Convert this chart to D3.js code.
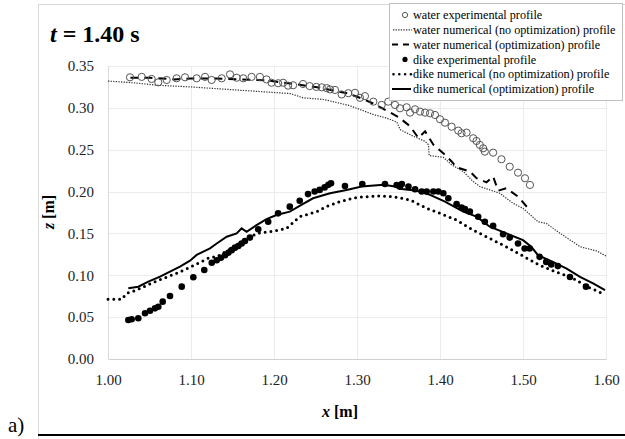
<!DOCTYPE html>
<html>
<head>
<meta charset="utf-8">
<script src="https://cdn.jsdelivr.net/npm/d3@7"></script>
<style>
  body { margin: 0; background: #fff; }
  svg { display: block; font-family: "Liberation Serif", "Times New Roman", serif; }
</style>
</head>
<body>
<svg id="chart" width="625" height="439"></svg>
<script>
// x [m], z [m]
var waterExp = [
  [1.0265,0.3365],[1.0406,0.337],[1.0526,0.3345],[1.0606,0.3305],[1.0707,0.3333],[1.0827,0.3353],
  [1.0928,0.3365],[1.1068,0.3353],[1.1169,0.337],[1.1249,0.3333],[1.137,0.3353],[1.147,0.340],
  [1.155,0.336],[1.163,0.3353],[1.173,0.337],[1.183,0.337],[1.191,0.334],[1.197,0.330],
  [1.205,0.3294],[1.211,0.330],[1.217,0.3265],[1.223,0.327],[1.235,0.3285],[1.243,0.326],
  [1.251,0.325],[1.2575,0.3245],[1.2635,0.3235],[1.2675,0.322],[1.2735,0.3214],[1.2815,0.316],
  [1.2895,0.3175],[1.2976,0.318],[1.3036,0.312],[1.3096,0.314],[1.3197,0.3074],[1.3297,0.3035],
  [1.3377,0.3074],[1.3458,0.3035],[1.3518,0.2995],[1.3598,0.3007],[1.3639,0.2943],[1.3699,0.2983],
  [1.3759,0.2955],[1.382,0.2943],[1.388,0.2935],[1.394,0.2915],[1.400,0.2864],[1.406,0.2823],
  [1.414,0.2775],[1.422,0.2728],[1.426,0.2696],[1.432,0.2704],[1.440,0.2637],[1.444,0.2604],
  [1.448,0.2557],[1.452,0.2517],[1.454,0.2477],[1.464,0.2465],[1.474,0.2386],[1.484,0.2297],
  [1.494,0.2226],[1.5024,0.2159],[1.5084,0.2079]
];
var waterNoOpt = [
  [1.00,0.332],[1.03,0.330],[1.06,0.327],[1.10,0.325],[1.16,0.321],[1.22,0.317],[1.235,0.312],
  [1.26,0.310],[1.29,0.303],[1.32,0.292],[1.335,0.288],[1.348,0.283],[1.352,0.274],[1.368,0.266],
  [1.382,0.260],[1.386,0.256],[1.387,0.243],[1.404,0.241],[1.414,0.232],[1.428,0.224],[1.440,0.212],
  [1.448,0.206],[1.46,0.202],[1.472,0.198],[1.488,0.186],[1.50,0.180],[1.518,0.164],[1.528,0.162],
  [1.545,0.150],[1.569,0.134],[1.589,0.129],[1.60,0.123]
];
var waterOpt = [
  [1.027,0.336],[1.05,0.336],[1.08,0.334],[1.10,0.335],[1.13,0.335],[1.16,0.334],[1.19,0.333],
  [1.22,0.329],[1.25,0.325],[1.27,0.321],[1.29,0.317],[1.306,0.311],[1.32,0.305],[1.337,0.296],
  [1.35,0.289],[1.364,0.278],[1.374,0.264],[1.382,0.272],[1.392,0.256],[1.406,0.244],[1.414,0.236],
  [1.420,0.229],[1.436,0.224],[1.444,0.216],[1.456,0.211],[1.464,0.218],[1.470,0.201],[1.480,0.204],
  [1.494,0.194],[1.508,0.178]
];
var dikeExp = [
  [1.0245,0.0466],[1.0285,0.0474],[1.0365,0.0486],[1.0446,0.0546],[1.0506,0.0577],[1.0566,0.0605],
  [1.0606,0.0625],[1.0659,0.0685],[1.0747,0.0753],[1.0888,0.0864],[1.1028,0.0976],[1.116,0.1063],
  [1.125,0.115],[1.131,0.118],[1.136,0.121],[1.141,0.124],[1.145,0.127],[1.149,0.130],[1.153,0.133],
  [1.157,0.135],[1.161,0.138],[1.165,0.141],[1.171,0.145],[1.181,0.155],[1.193,0.164],[1.205,0.174],
  [1.219,0.182],[1.231,0.189],[1.241,0.197],[1.249,0.200],[1.255,0.202],[1.261,0.205],[1.2655,0.208],
  [1.2687,0.210],[1.2855,0.2067],[1.3064,0.209],[1.3337,0.209],[1.3478,0.2079],[1.3518,0.2059],
  [1.354,0.209],[1.362,0.206],[1.370,0.2027],[1.378,0.200],[1.384,0.200],[1.392,0.200],[1.398,0.200],
  [1.404,0.198],[1.410,0.192],[1.420,0.185],[1.426,0.181],[1.430,0.179],[1.436,0.176],[1.446,0.170],
  [1.454,0.164],[1.464,0.159],[1.476,0.149],[1.484,0.145],[1.494,0.138],[1.502,0.132],[1.508,0.132],
  [1.520,0.122],[1.528,0.116],[1.534,0.113],[1.542,0.111],[1.5566,0.098],[1.5759,0.0864]
];
var dikeNoOpt = [
  [1.00,0.0713],[1.0165,0.0713],[1.0225,0.0785],[1.0345,0.0824],[1.0586,0.0932],[1.0827,0.1024],
  [1.0988,0.1096],[1.1148,0.1174],[1.1229,0.1215],[1.131,0.122],[1.155,0.136],[1.179,0.150],
  [1.201,0.153],[1.215,0.156],[1.231,0.170],[1.2515,0.176],[1.263,0.182],[1.2795,0.188],
  [1.2996,0.193],[1.3237,0.1947],[1.3438,0.194],[1.3639,0.190],[1.384,0.180],[1.40,0.174],
  [1.420,0.166],[1.440,0.154],[1.460,0.144],[1.480,0.134],[1.500,0.123],[1.520,0.112],
  [1.540,0.104],[1.5566,0.098],[1.5647,0.094],[1.5767,0.0864],[1.5867,0.0824],[1.5968,0.0777]
];
var dikeOpt = [
  [1.0245,0.0845],[1.0365,0.0864],[1.0486,0.0924],[1.0627,0.0983],[1.0747,0.1043],[1.0867,0.1103],
  [1.0988,0.1174],[1.1068,0.1243],[1.1229,0.1322],[1.131,0.138],[1.143,0.146],[1.155,0.150],
  [1.161,0.156],[1.167,0.152],[1.179,0.160],[1.191,0.167],[1.203,0.172],[1.219,0.176],[1.233,0.184],
  [1.247,0.192],[1.2675,0.198],[1.2875,0.202],[1.3056,0.206],[1.3317,0.208],[1.3458,0.206],
  [1.354,0.203],[1.372,0.201],[1.388,0.196],[1.406,0.188],[1.428,0.176],[1.444,0.170],[1.460,0.158],
  [1.480,0.150],[1.500,0.142],[1.510,0.134],[1.518,0.124],[1.536,0.116],[1.5526,0.108],
  [1.5687,0.098],[1.585,0.090],[1.5988,0.0824]
];
var xTicks = [1.0, 1.1, 1.2, 1.3, 1.4, 1.5, 1.6];
var yTicks = [0, 0.05, 0.10, 0.15, 0.20, 0.25, 0.30, 0.35];
var legendLabels = [
  "water experimental profile",
  "water numerical (no optimization) profile",
  "water numerical (optimization) profile",
  "dike experimental profile",
  "dike numerical (no optimization) profile",
  "dike numerical (optimization) profile"
];

var svg = d3.select("#chart");

// outer chart frame
svg.append("rect").attr("x", 38.5).attr("y", 4.5).attr("width", 600).attr("height", 440)
  .attr("fill", "none").attr("stroke", "#d9d9d9");

var x = d3.scaleLinear().domain([1, 1.6]).range([108, 606]);
var y = d3.scaleLinear().domain([0, 0.35]).range([359, 66]);

// grid
svg.append("g").selectAll("line.h").data(yTicks.slice(1)).enter().append("line")
  .attr("x1", x(1)).attr("x2", x(1.6))
  .attr("y1", d => Math.round(y(d)) + 0.5).attr("y2", d => Math.round(y(d)) + 0.5)
  .attr("stroke", "#ececec");
svg.append("g").selectAll("line.v").data(xTicks).enter().append("line")
  .attr("y1", y(0.35)).attr("y2", y(0))
  .attr("x1", d => Math.round(x(d)) + 0.5).attr("x2", d => Math.round(x(d)) + 0.5)
  .attr("stroke", d => d === 1 ? "#d9d9d9" : "#ececec");

var xAxis = svg.append("g").attr("transform", `translate(0,${y(0)})`)
  .call(d3.axisBottom(x).tickValues(xTicks).tickFormat(d3.format(".2f")).tickSize(0).tickPadding(15));
var yAxis = svg.append("g").attr("transform", `translate(${x(1)},0)`)
  .call(d3.axisLeft(y).tickValues(yTicks).tickFormat(d3.format(".2f")).tickSize(0).tickPadding(14));
xAxis.select(".domain").attr("stroke", "#d0d0d0");
yAxis.select(".domain").remove();
svg.selectAll(".tick text").attr("font-family", "Liberation Serif").attr("font-size", 15).attr("fill", "#222");

var line = d3.line().x(d => x(d[0])).y(d => y(d[1]));

svg.append("path").datum(waterNoOpt).attr("d", line).attr("fill", "none")
  .attr("stroke", "#333").attr("stroke-width", 1.2).attr("stroke-dasharray", "1.3,1.3");
svg.append("path").datum(dikeNoOpt).attr("d", line).attr("fill", "none")
  .attr("stroke", "#000").attr("stroke-width", 3).attr("stroke-linecap", "round").attr("stroke-dasharray", "0,5.8");
svg.append("path").datum(dikeOpt).attr("d", line).attr("fill", "none")
  .attr("stroke", "#000").attr("stroke-width", 2);
svg.append("path").datum(waterOpt).attr("d", line).attr("fill", "none")
  .attr("stroke", "#000").attr("stroke-width", 2).attr("stroke-dasharray", "8,6");

svg.append("g").selectAll("circle").data(waterExp).enter().append("circle")
  .attr("cx", d => x(d[0])).attr("cy", d => y(d[1])).attr("r", 3.6)
  .attr("fill", "none").attr("stroke", "#555").attr("stroke-width", 1);
svg.append("g").selectAll("circle").data(dikeExp).enter().append("circle")
  .attr("cx", d => x(d[0])).attr("cy", d => y(d[1])).attr("r", 3.3)
  .attr("fill", "#000");

// title
var title = svg.append("text").attr("x", 50).attr("y", 42)
  .attr("font-size", 24).attr("font-weight", "bold");
title.append("tspan").attr("font-style", "italic").text("t");
title.append("tspan").text(" = 1.40 s");

// axis titles
var xt = svg.append("text").attr("x", 340).attr("y", 417).attr("text-anchor", "middle")
  .attr("font-size", 16).attr("font-weight", "bold");
xt.append("tspan").attr("font-style", "italic").text("x");
xt.append("tspan").text(" [m]");
var yt = svg.append("text").attr("transform", "translate(54,212) rotate(-90)").attr("text-anchor", "middle")
  .attr("font-size", 16).attr("font-weight", "bold");
yt.append("tspan").attr("font-style", "italic").text("z");
yt.append("tspan").text(" [m]");

// legend
var lg = svg.append("g");
lg.append("rect").attr("x", 389.5).attr("y", 3.5).attr("width", 233).attr("height", 97)
  .attr("fill", "#fff").attr("stroke", "#bfbfbf");
var rowY = d3.scalePoint().domain(d3.range(6)).range([15, 89]);
lg.selectAll("text").data(legendLabels).enter().append("text")
  .attr("x", 413).attr("y", (d, i) => rowY(i)).attr("dy", "0.35em")
  .attr("font-size", 12.2).text(d => d);
lg.append("circle").attr("cx", 405).attr("cy", rowY(0)).attr("r", 2.6)
  .attr("fill", "none").attr("stroke", "#555");
lg.append("line").attr("x1", 393).attr("x2", 412).attr("y1", rowY(1)).attr("y2", rowY(1))
  .attr("stroke", "#333").attr("stroke-width", 1.2).attr("stroke-dasharray", "1.3,1.3");
lg.append("line").attr("x1", 392).attr("x2", 412).attr("y1", rowY(2)).attr("y2", rowY(2))
  .attr("stroke", "#000").attr("stroke-width", 2).attr("stroke-dasharray", "6,5");
lg.append("circle").attr("cx", 405).attr("cy", rowY(3)).attr("r", 2.6).attr("fill", "#000");
lg.append("line").attr("x1", 393.5).attr("x2", 412).attr("y1", rowY(4)).attr("y2", rowY(4))
  .attr("stroke", "#000").attr("stroke-width", 2.6).attr("stroke-linecap", "round").attr("stroke-dasharray", "0,5.8");
lg.append("line").attr("x1", 392).attr("x2", 411).attr("y1", rowY(5)).attr("y2", rowY(5))
  .attr("stroke", "#000").attr("stroke-width", 2);

// panel label and rule
svg.append("text").attr("x", 8).attr("y", 432).attr("font-size", 21).text("a)");
svg.append("line").attr("x1", 38).attr("x2", 625).attr("y1", 435).attr("y2", 435)
  .attr("stroke", "#000").attr("stroke-width", 2);
</script>
</body>
</html>
